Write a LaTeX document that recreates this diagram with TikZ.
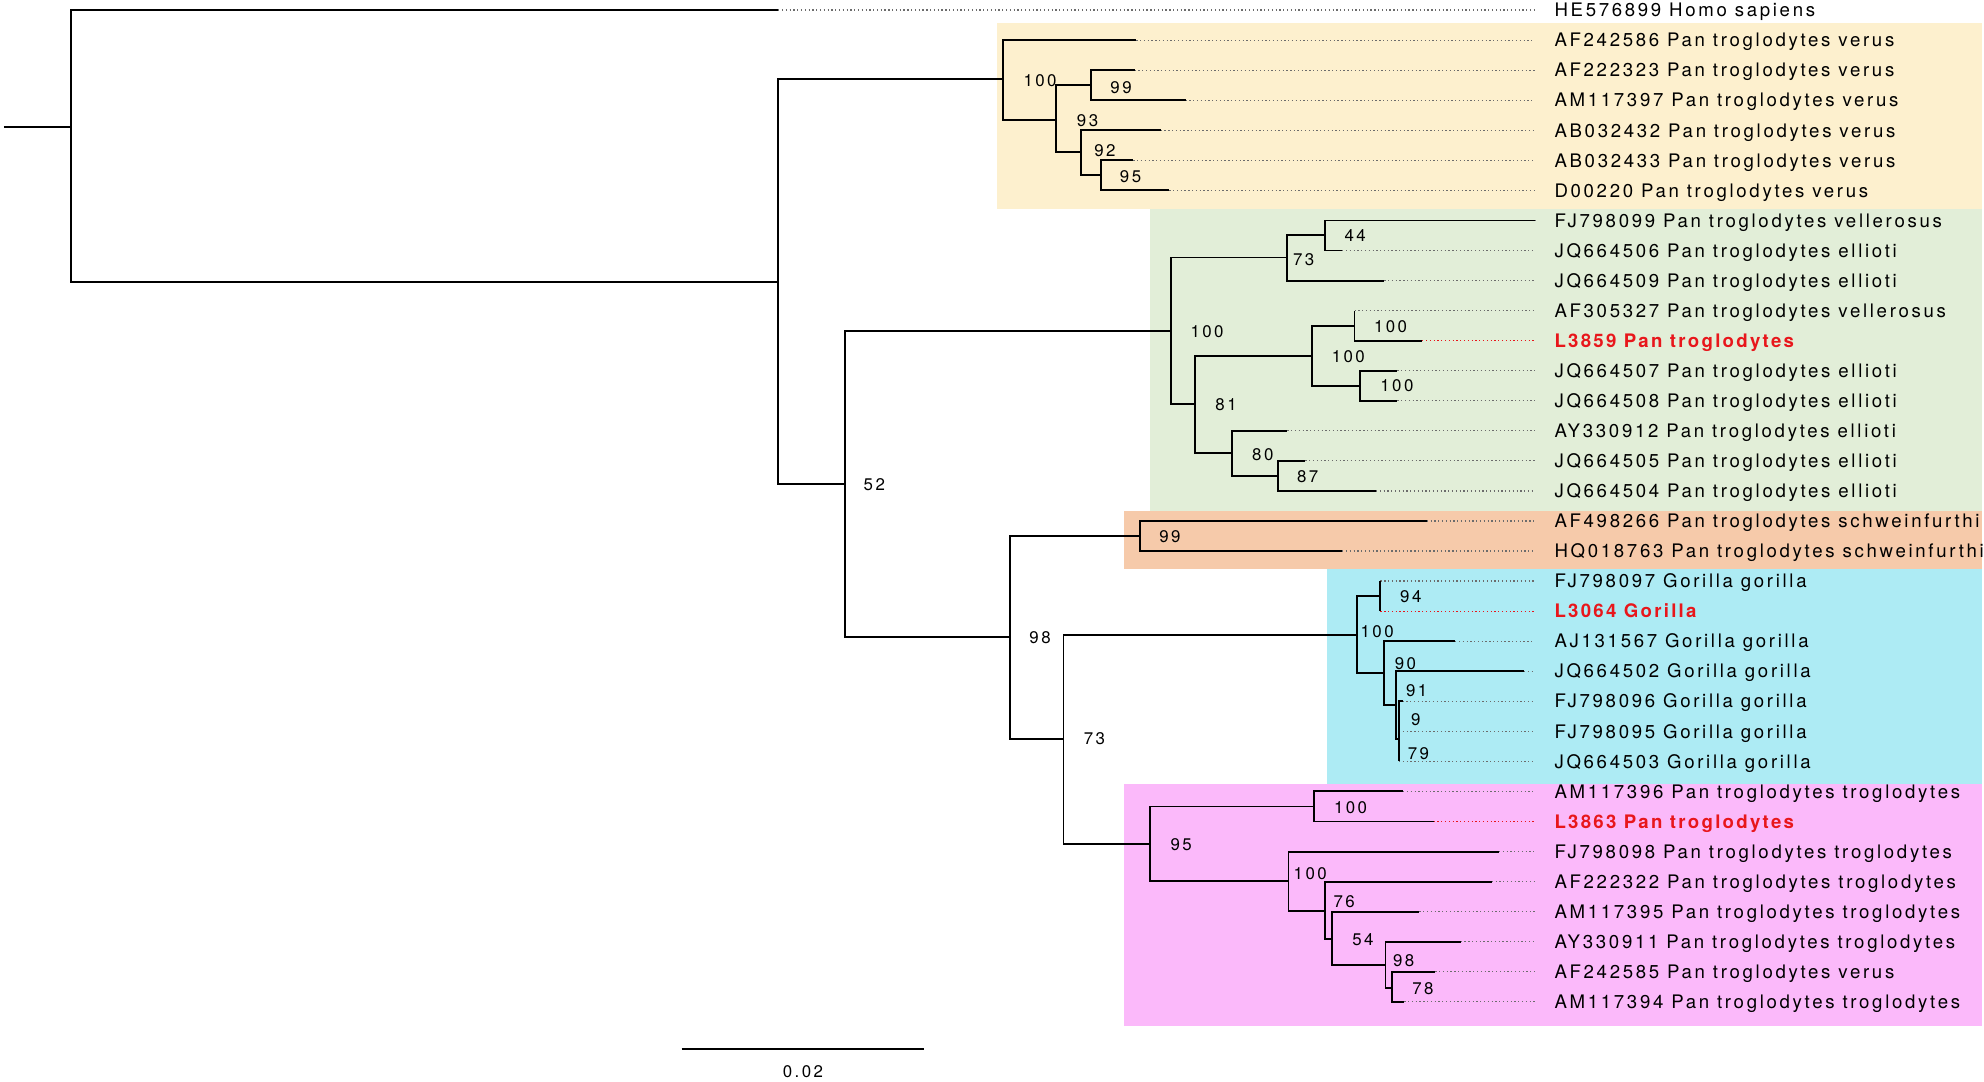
\documentclass[tikz,border=0pt]{standalone}
\usepackage{fontspec}
\newfontfamily\labfont{TeX Gyre Heros}[LetterSpace=14.4]
\newfontfamily\labfontb{TeX Gyre Heros}[LetterSpace=12.2]
\definecolor{bgyel}{RGB}{253,240,206}
\definecolor{bggreen}{RGB}{226,238,216}
\definecolor{bgorange}{RGB}{246,202,170}
\definecolor{bgblue}{RGB}{173,235,244}
\definecolor{bgpink}{RGB}{251,185,250}
\definecolor{labred}{RGB}{232,22,27}
\begin{document}
\begin{tikzpicture}[x=0.012653cm,y=-0.012653cm,
  br/.style={line width=0.55pt,black},
  dotl/.style={gray!85!black,line width=0.35pt,dash pattern=on 0.36pt off 0.72pt},
  dotr/.style={dotl,draw=labred},
  lab/.style={anchor=base west,inner sep=0pt,font=\labfont\fontsize{5.3}{6}\selectfont},
  labr/.style={anchor=base west,inner sep=0pt,text=labred,font=\labfontb\bfseries\fontsize{5.3}{6}\selectfont},
  bs/.style={inner sep=0pt,font=\labfont\fontsize{4.8}{5}\selectfont}]
\useasboundingbox (0,0) rectangle (1568,855);
\fill[white] (0,0) rectangle (1568,855);
% clade backgrounds
\fill[bgyel] (788,17.9) rectangle (1566.5,165.3);
\fill[bggreen] (909,165.3) rectangle (1566.5,404.1);
\fill[bgorange] (888,404.1) rectangle (1566.5,449.5);
\fill[bgblue] (1049,449.5) rectangle (1566.5,619.8);
\fill[bgpink] (888,619.8) rectangle (1566.5,810.7);
% internal nodes
\coordinate (r0) at (3,100.6);
\coordinate (R) at (56,100.6);
\coordinate (A) at (615,222.6);
\coordinate (V) at (793,62.7);
\coordinate (V1) at (834.5,94.5);
\coordinate (V2) at (862,67.5);
\coordinate (V3) at (854,120.4);
\coordinate (V4) at (870,138.6);
\coordinate (B) at (667.7,382.8);
\coordinate (G) at (925.5,261.5);
\coordinate (G1) at (1017.4,203.5);
\coordinate (G11) at (1047.3,186.1);
\coordinate (G2) at (944.7,319.6);
\coordinate (G21) at (1036.6,281);
\coordinate (G211) at (1070.5,257.4);
\coordinate (G212) at (1075,304.9);
\coordinate (G22) at (973.7,358);
\coordinate (G221) at (1009.8,376.1);
\coordinate (C) at (798,503.8);
\coordinate (O) at (900.8,423.6);
\coordinate (D) at (840.5,584);
\coordinate (K) at (1072.7,501.7);
\coordinate (K1) at (1091,471.1);
\coordinate (K2) at (1093.5,532);
\coordinate (K3) at (1103,557);
\coordinate (K4) at (1105.7,584);
\coordinate (P) at (909,667);
\coordinate (P1) at (1038.4,637.4);
\coordinate (P2) at (1018.3,696.4);
\coordinate (P3) at (1047.3,720);
\coordinate (P4) at (1053,742);
\coordinate (P5) at (1095,762.4);
\coordinate (P6) at (1100,781);
% leaves (black labels)
\foreach \n/\r/\x/\t in {
  h/1/615/HE576899 Homo sapiens,
  v1/2/898/AF242586 Pan troglodytes verus,
  v2/3/896.7/AF222323 Pan troglodytes verus,
  v3/4/937/AM117397 Pan troglodytes verus,
  v4/5/917.3/AB032432 Pan troglodytes verus,
  v5/6/895.7/AB032433 Pan troglodytes verus,
  v6/7/924.1/D00220 Pan troglodytes verus,
  e1/8/1212.9/FJ798099 Pan troglodytes vellerosus,
  e2/9/1060.7/JQ664506 Pan troglodytes ellioti,
  e3/10/1094/JQ664509 Pan troglodytes ellioti,
  e4/11/1070.5/AF305327 Pan troglodytes vellerosus,
  e6/13/1104.4/JQ664507 Pan troglodytes ellioti,
  e7/14/1104.4/JQ664508 Pan troglodytes ellioti,
  e8/15/1017.4/AY330912 Pan troglodytes ellioti,
  e9/16/1031.7/JQ664505 Pan troglodytes ellioti,
  e10/17/1087.5/JQ664504 Pan troglodytes ellioti,
  s1/18/1127.6/AF498266 Pan troglodytes schweinfurthi,
  s2/19/1060.7/HQ018763 Pan troglodytes schweinfurthi,
  g1/20/1091/FJ798097 Gorilla gorilla,
  g3/22/1150/AJ131567 Gorilla gorilla,
  g4/23/1204.4/JQ664502 Gorilla gorilla,
  g5/24/1108.5/FJ798096 Gorilla gorilla,
  g6/25/1105.7/FJ798095 Gorilla gorilla,
  g7/26/1105.7/JQ664503 Gorilla gorilla,
  t1/27/1108.9/AM117396 Pan troglodytes troglodytes,
  t3/29/1184.7/FJ798098 Pan troglodytes troglodytes,
  t4/30/1179/AF222322 Pan troglodytes troglodytes,
  t5/31/1121.8/AM117395 Pan troglodytes troglodytes,
  t6/32/1154.4/AY330911 Pan troglodytes troglodytes,
  t7/33/1134.3/AF242585 Pan troglodytes verus,
  t8/34/1109.8/AM117394 Pan troglodytes troglodytes}{
  \pgfmathsetmacro{\yy}{8+(\r-1)*23.75}
  \coordinate (\n) at (\x,\yy);
  \coordinate (\n-t) at (1213,\yy);
  \draw[dotl] (\n) -- (\n-t);
  \node[lab] (\n-l) at (1228,\yy+5.3) {\t};
}
% leaves (red labels)
\foreach \n/\r/\x/\t in {
  e5/12/1124/L3859 Pan troglodytes,
  g2/21/1091/L3064 Gorilla,
  t2/28/1133/L3863 Pan troglodytes}{
  \pgfmathsetmacro{\yy}{8+(\r-1)*23.75}
  \coordinate (\n) at (\x,\yy);
  \coordinate (\n-t) at (1213,\yy);
  \draw[dotr] (\n) -- (\n-t);
  \node[labr] (\n-l) at (1228,\yy+5.3) {\t};
}
% branches
\draw[br] (r0) -- (R);
\foreach \p/\c in {R/h,R/A,A/V,A/B,V/v1,V/V1,V1/V2,V1/V3,V2/v2,V2/v3,V3/v4,V3/V4,V4/v5,V4/v6,
  B/G,B/C,G/G1,G/G2,G1/G11,G1/e3,G11/e1,G11/e2,G2/G21,G2/G22,G21/G211,G21/G212,
  G211/e4,G211/e5,G212/e6,G212/e7,G22/e8,G22/G221,G221/e9,G221/e10,
  C/O,C/D,O/s1,O/s2,D/K,D/P,K/K1,K/K2,K1/g1,K1/g2,K2/g3,K2/K3,K3/g4,K3/K4,K4/g5,K4/g6,K4/g7,
  P/P1,P/P2,P1/t1,P1/t2,P2/t3,P2/P3,P3/t4,P3/P4,P4/t5,P4/P5,P5/t6,P5/P6,P6/t7,P6/t8}{
  \draw[br] (\p) |- (\c);
}
% bootstrap values
\foreach \x/\y/\t [count=\i] in {822/64/100,886/69/99,859.5/95/93,873.3/119/92,893.5/139.4/95,
  1071/186/44,1030.4/205.3/73,954/262/100,1099/258/100,1065.6/281.6/100,1104/305/100,
  969/320/81,998/359/80,1033.5/377/87,691/383/52,924.6/424/99,822/504/98,1115/471.5/94,
  1088.4/499/100,1110.7/524.4/90,1119.6/545.8/91,1119/569/9,1121/595.4/79,865/584/73,
  933.5/667.4/95,1067.4/638.4/100,1035.5/690.6/100,1062.3/712.5/76,1077.2/742.6/54,
  1109.3/759.2/98,1124.5/781/78}{
  \node[bs] (b\i) at (\x,\y) {\t};
}
% scale bar
\coordinate (sb1) at (538.7,829);
\coordinate (sb2) at (730.3,829);
\draw[br] (sb1) -- (sb2);
\node[bs] (sbl) at (634.6,847) {0.02};
\end{tikzpicture}
\end{document}
